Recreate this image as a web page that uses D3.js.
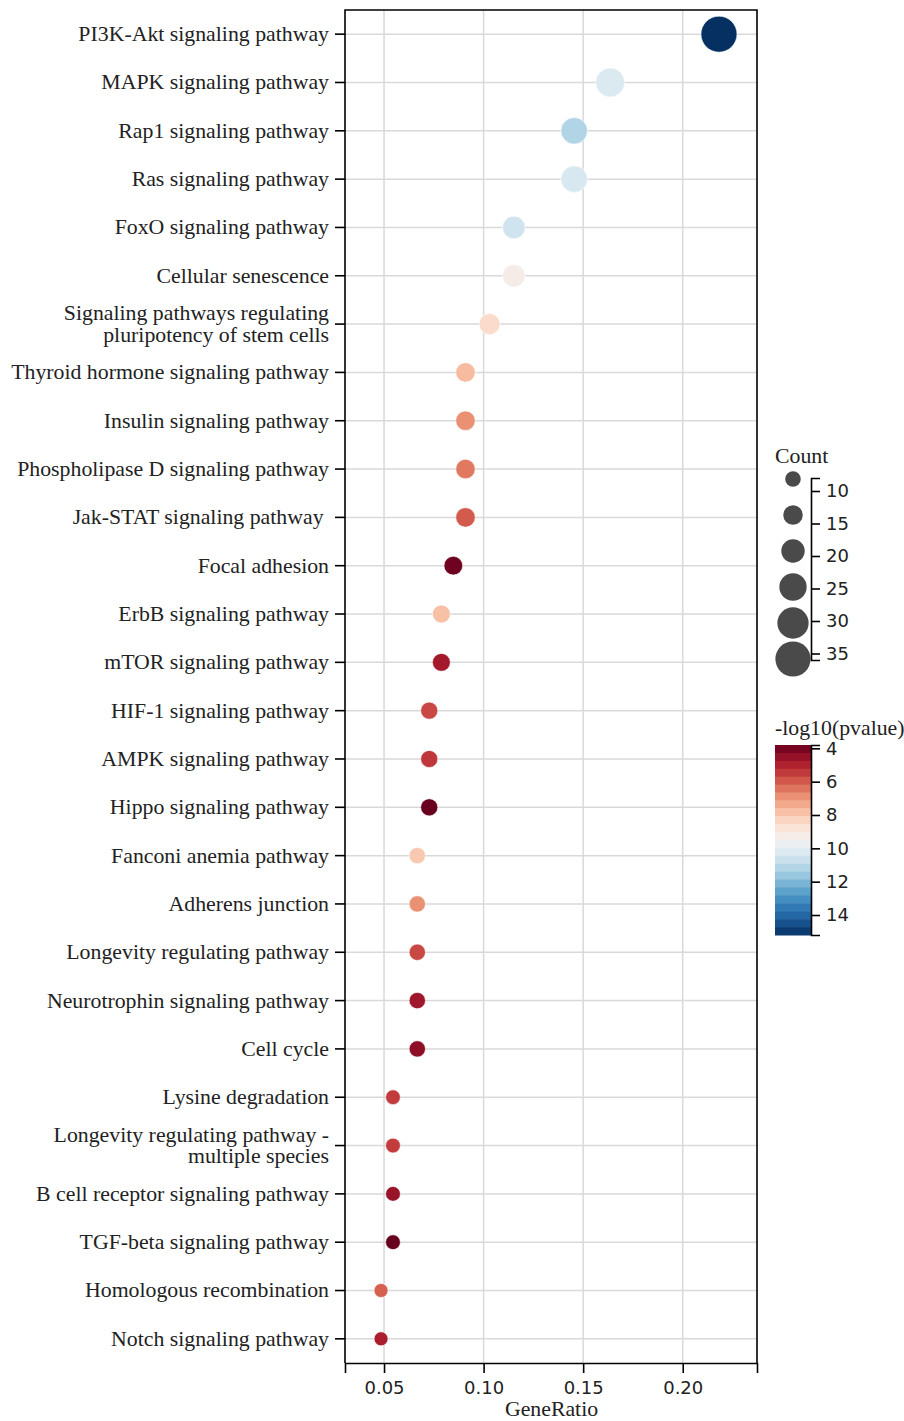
<!DOCTYPE html>
<html>
<head>
<meta charset="utf-8">
<script src="https://cdn.jsdelivr.net/npm/d3@7/dist/d3.min.js"></script>
<style>
  html, body { margin: 0; padding: 0; background: #fff; }
  svg { display: block; }
  .serif { font-family: "Liberation Serif", "Times New Roman", serif; }
  .sans { font-family: "DejaVu Sans", sans-serif; }
</style>
</head>
<body>
<svg id="chart" width="904" height="1421"></svg>
<script>
// KEGG pathway enrichment: one row per pathway, top to bottom
const pathways = [
  "PI3K-Akt signaling pathway",
  "MAPK signaling pathway",
  "Rap1 signaling pathway",
  "Ras signaling pathway",
  "FoxO signaling pathway",
  "Cellular senescence",
  "Signaling pathways regulating\npluripotency of stem cells",
  "Thyroid hormone signaling pathway",
  "Insulin signaling pathway",
  "Phospholipase D signaling pathway",
  "Jak-STAT signaling pathway ",
  "Focal adhesion",
  "ErbB signaling pathway",
  "mTOR signaling pathway",
  "HIF-1 signaling pathway",
  "AMPK signaling pathway",
  "Hippo signaling pathway",
  "Fanconi anemia pathway",
  "Adherens junction",
  "Longevity regulating pathway",
  "Neurotrophin signaling pathway",
  "Cell cycle",
  "Lysine degradation",
  "Longevity regulating pathway -\nmultiple species",
  "B cell receptor signaling pathway",
  "TGF-beta signaling pathway",
  "Homologous recombination",
  "Notch signaling pathway"
];
const geneRatio = [
  0.2182, 0.1636, 0.1455, 0.1455, 0.1152, 0.1152, 0.1030,
  0.0909, 0.0909, 0.0909, 0.0909, 0.0848, 0.0788, 0.0788,
  0.0727, 0.0727, 0.0727, 0.0667, 0.0667, 0.0667, 0.0667,
  0.0667, 0.0545, 0.0545, 0.0545, 0.0545, 0.0485, 0.0485
];
const geneCount = [
  36, 27, 24, 24, 19, 19, 17,
  15, 15, 15, 15, 14, 13, 13,
  12, 12, 12, 11, 11, 11, 11,
  11, 9, 9, 9, 9, 8, 8
];
const negLog10P = [
  15.2, 10.3, 11.2, 10.4, 10.6, 9.2, 8.5,
  7.7, 6.9, 6.5, 6.0, 3.9, 7.8, 4.8,
  5.7, 5.4, 3.8, 8.0, 6.9, 5.7, 4.7,
  4.4, 5.5, 5.5, 4.6, 3.8, 6.1, 4.9
];
const xTicks = [0.05, 0.10, 0.15, 0.20];
const countLegend = [10, 15, 20, 25, 30, 35];
const pTicks = [4, 6, 8, 10, 12, 14];

const svg = d3.select("#chart");
const plot = { left: 345, right: 757, top: 10, bottom: 1363 };
const serifSize = 21.8;

const x = d3.scaleLinear().domain([0.0304, 0.2373]).range([plot.left, plot.right]);
const y = d3.scalePoint().domain(pathways).range([plot.top, plot.bottom]).padding(0.5);
const r = d3.scaleLinear().domain([8, 36]).range([7, 18]);
const pDomain = [3.8, 15.2];
const color = d3.scaleSequential(d3.interpolateRdBu).domain(pDomain);

const grid = svg.append("g").attr("stroke", "#d9d9d9").attr("stroke-width", 1.5);
grid.selectAll("line.h").data(pathways).join("line")
  .attr("x1", plot.left).attr("x2", plot.right)
  .attr("y1", d => y(d)).attr("y2", d => y(d));
grid.selectAll("line.v").data(xTicks).join("line")
  .attr("x1", d => x(d)).attr("x2", d => x(d))
  .attr("y1", plot.top).attr("y2", plot.bottom);

// dots
const rows = pathways.map((p, i) => ({ p, ratio: geneRatio[i], n: geneCount[i], v: negLog10P[i] }));
svg.append("g").selectAll("circle").data(rows).join("circle")
  .attr("cx", d => x(d.ratio)).attr("cy", d => y(d.p))
  .attr("r", d => r(d.n))
  .attr("fill", d => color(d.v))
  .attr("stroke", "#ffffff").attr("stroke-width", 0.6);

// frame: left, top, right
svg.append("path")
  .attr("d", `M${plot.left},${plot.bottom}V${plot.top}H${plot.right}V${plot.bottom}`)
  .attr("fill", "none").attr("stroke", "#000").attr("stroke-width", 1.6);

// x axis
const xAxis = svg.append("g").attr("transform", `translate(0,${plot.bottom})`)
  .call(d3.axisBottom(x).tickValues(xTicks).tickFormat(d3.format(".2f")).tickSize(10).tickSizeOuter(10).tickPadding(8));
xAxis.selectAll("path, line").attr("stroke", "#000").attr("stroke-width", 1.6);
xAxis.selectAll("text").attr("class", "sans").attr("font-size", 18).attr("fill", "#222");
svg.append("text").attr("class", "serif")
  .attr("x", (plot.left + plot.right) / 2 + 0.5).attr("y", 1416)
  .attr("text-anchor", "middle").attr("font-size", serifSize).attr("fill", "#222")
  .text("GeneRatio");

// y axis ticks and wrapped labels
const yg = svg.append("g");
yg.selectAll("line").data(pathways).join("line")
  .attr("x1", plot.left - 10).attr("x2", plot.left)
  .attr("y1", d => y(d)).attr("y2", d => y(d))
  .attr("stroke", "#000").attr("stroke-width", 1.6);
const lbl = yg.selectAll("text").data(pathways).join("text")
  .attr("class", "serif").attr("font-size", serifSize).attr("fill", "#222")
  .attr("text-anchor", "end").style("white-space", "pre");
lbl.each(function (d) {
  const lines = d.split("\n");
  const t = d3.select(this);
  const lh = 21.5;
  lines.forEach((ln, k) => {
    t.append("tspan")
      .attr("x", plot.left - 16)
      .attr("y", y(d) + (k - (lines.length - 1) / 2) * lh)
      .attr("dy", "0.32em")
      .text(ln);
  });
});

// size legend
const sizeTop = 478, sizeBottom = 660;
svg.append("text").attr("class", "serif").attr("x", 775).attr("y", 463)
  .attr("font-size", serifSize).attr("fill", "#222").text("Count");
const sPos = d3.scalePoint().domain(countLegend).range([sizeTop + 1, sizeBottom - 1]);
svg.append("g").selectAll("circle").data(countLegend).join("circle")
  .attr("cx", 793).attr("cy", d => sPos(d)).attr("r", d => r(d))
  .attr("fill", "#4a4a4a");
const sAxisScale = d3.scaleLinear().domain([8, 36]).range([sizeTop, sizeBottom]);
const sAxis = svg.append("g").attr("transform", "translate(811,0)")
  .call(d3.axisRight(sAxisScale).tickValues(countLegend).tickSize(9).tickSizeOuter(9).tickPadding(6));
sAxis.selectAll("path, line").attr("stroke", "#000").attr("stroke-width", 1.6);
sAxis.selectAll("text").attr("class", "sans").attr("font-size", 18).attr("fill", "#222");

// colour bar
const cbTop = 745, cbBottom = 935, cbX = 775, cbW = 36;
svg.append("text").attr("class", "serif").attr("x", 775).attr("y", 735)
  .attr("font-size", serifSize).attr("fill", "#222").text("-log10(pvalue)");
const cbY = d3.scaleLinear().domain(pDomain).range([cbTop, cbBottom]);
const nBands = 24;
const bands = d3.range(nBands);
const bandH = (cbBottom - cbTop) / nBands;
svg.append("g").selectAll("rect").data(bands).join("rect")
  .attr("x", cbX).attr("width", cbW)
  .attr("y", i => cbTop + i * bandH).attr("height", bandH + 0.5)
  .attr("fill", i => d3.interpolateRdBu((i + 0.5) / nBands));
const cAxis = svg.append("g").attr("transform", `translate(${cbX + cbW},0)`)
  .call(d3.axisRight(cbY).tickValues(pTicks).tickSize(9).tickSizeOuter(9).tickPadding(6));
cAxis.selectAll("path, line").attr("stroke", "#000").attr("stroke-width", 1.6);
cAxis.selectAll("text").attr("class", "sans").attr("font-size", 18).attr("fill", "#222");
</script>
</body>
</html>
